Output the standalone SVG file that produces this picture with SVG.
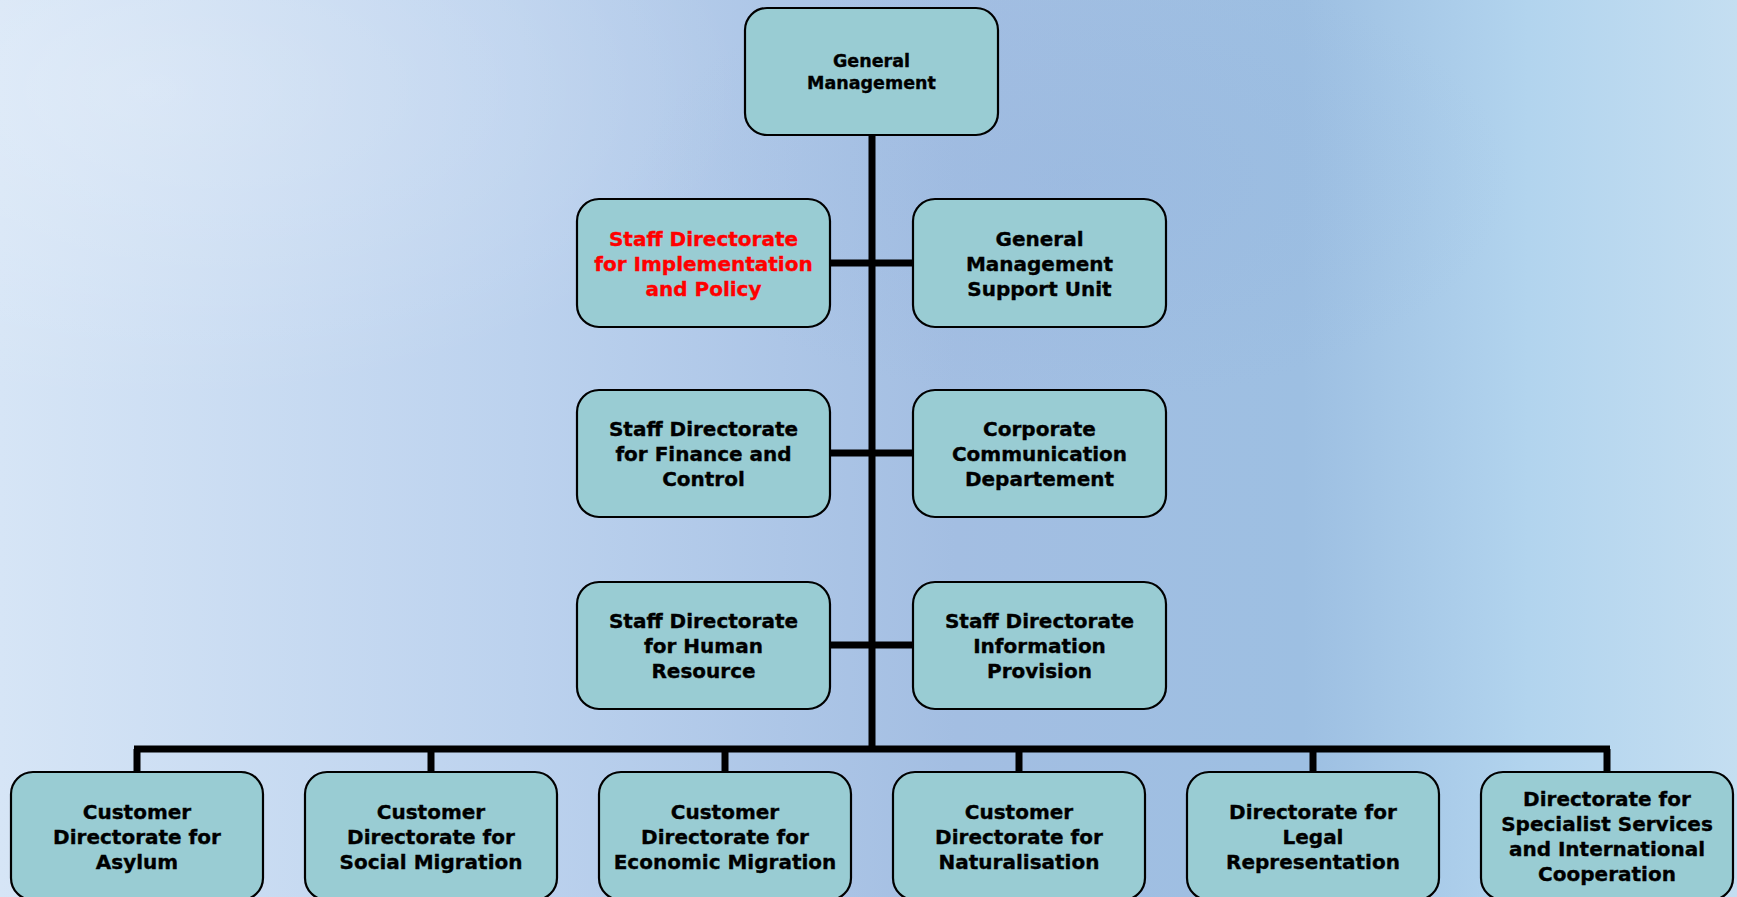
<svg xmlns="http://www.w3.org/2000/svg" width="1737" height="897" viewBox="0 0 1737 897">
<defs>
<linearGradient id="bg" x1="0" y1="0" x2="1" y2="0">
<stop offset="0" stop-color="#D6E5F6"/>
<stop offset="0.3" stop-color="#BCD2EE"/>
<stop offset="0.55" stop-color="#A3BEE2"/>
<stop offset="0.75" stop-color="#9DBFE2"/>
<stop offset="0.88" stop-color="#B2D4EE"/>
<stop offset="1" stop-color="#C4DEF1"/>
</linearGradient>
<radialGradient id="glowL" cx="0.08" cy="0.1" r="0.35">
<stop offset="0" stop-color="#FFFFFF" stop-opacity="0.25"/>
<stop offset="1" stop-color="#FFFFFF" stop-opacity="0"/>
</radialGradient>
<radialGradient id="glowC" cx="0.62" cy="0.2" r="0.25">
<stop offset="0" stop-color="#8FB0DC" stop-opacity="0.25"/>
<stop offset="1" stop-color="#8FB0DC" stop-opacity="0"/>
</radialGradient>
<style>
.box{fill:#99CCD3;stroke:#000;stroke-width:2.2}
.t{font-family:"DejaVu Sans",Verdana,sans-serif;font-weight:bold;font-size:20px;fill:#000;stroke:#000;stroke-width:0.35;text-anchor:middle}
.gm{font-size:17.5px}
.red{fill:#FF0000;stroke:#FF0000}
.ln{stroke:#000;stroke-width:7;fill:none}
</style>
</defs>
<rect width="1737" height="897" fill="url(#bg)"/>
<rect width="1737" height="897" fill="url(#glowL)"/>
<rect width="1737" height="897" fill="url(#glowC)"/>
<g id="connectors">
<line class="ln" x1="872" y1="135" x2="872" y2="749"/>
<line class="ln" x1="830" y1="263" x2="913" y2="263"/>
<line class="ln" x1="830" y1="453" x2="913" y2="453"/>
<line class="ln" x1="830" y1="645" x2="913" y2="645"/>
<line class="ln" x1="134" y1="749" x2="1610" y2="749"/>
<line class="ln" x1="137" y1="749" x2="137" y2="772"/>
<line class="ln" x1="431" y1="749" x2="431" y2="772"/>
<line class="ln" x1="725" y1="749" x2="725" y2="772"/>
<line class="ln" x1="1019" y1="749" x2="1019" y2="772"/>
<line class="ln" x1="1313" y1="749" x2="1313" y2="772"/>
<line class="ln" x1="1607" y1="749" x2="1607" y2="772"/>
</g>
<g id="n-gm">
<rect class="box" x="745" y="8" width="253" height="127" rx="22"/>
<text class="t gm" x="871.5" y="67">General</text>
<text class="t gm" x="871.5" y="89">Management</text>
</g>
<g id="n-impl">
<rect class="box" x="577" y="199" width="253" height="128" rx="22"/>
<text class="t red" x="703.5" y="246">Staff Directorate</text>
<text class="t red" x="703.5" y="271">for Implementation</text>
<text class="t red" x="703.5" y="296">and Policy</text>
</g>
<g id="n-gmsu">
<rect class="box" x="913" y="199" width="253" height="128" rx="22"/>
<text class="t" x="1039.5" y="246">General</text>
<text class="t" x="1039.5" y="271">Management</text>
<text class="t" x="1039.5" y="296">Support Unit</text>
</g>
<g id="n-fin">
<rect class="box" x="577" y="390" width="253" height="127" rx="22"/>
<text class="t" x="703.5" y="436">Staff Directorate</text>
<text class="t" x="703.5" y="461">for Finance and</text>
<text class="t" x="703.5" y="486">Control</text>
</g>
<g id="n-comm">
<rect class="box" x="913" y="390" width="253" height="127" rx="22"/>
<text class="t" x="1039.5" y="436">Corporate</text>
<text class="t" x="1039.5" y="461">Communication</text>
<text class="t" x="1039.5" y="486">Departement</text>
</g>
<g id="n-hr">
<rect class="box" x="577" y="582" width="253" height="127" rx="22"/>
<text class="t" x="703.5" y="628">Staff Directorate</text>
<text class="t" x="703.5" y="653">for Human</text>
<text class="t" x="703.5" y="678">Resource</text>
</g>
<g id="n-info">
<rect class="box" x="913" y="582" width="253" height="127" rx="22"/>
<text class="t" x="1039.5" y="628">Staff Directorate</text>
<text class="t" x="1039.5" y="653">Information</text>
<text class="t" x="1039.5" y="678">Provision</text>
</g>
<g id="n-asylum">
<rect class="box" x="11" y="772" width="252" height="128" rx="22"/>
<text class="t" x="137" y="819">Customer</text>
<text class="t" x="137" y="844">Directorate for</text>
<text class="t" x="137" y="869">Asylum</text>
</g>
<g id="n-social">
<rect class="box" x="305" y="772" width="252" height="128" rx="22"/>
<text class="t" x="431" y="819">Customer</text>
<text class="t" x="431" y="844">Directorate for</text>
<text class="t" x="431" y="869">Social Migration</text>
</g>
<g id="n-econ">
<rect class="box" x="599" y="772" width="252" height="128" rx="22"/>
<text class="t" x="725" y="819">Customer</text>
<text class="t" x="725" y="844">Directorate for</text>
<text class="t" x="725" y="869">Economic Migration</text>
</g>
<g id="n-nat">
<rect class="box" x="893" y="772" width="252" height="128" rx="22"/>
<text class="t" x="1019" y="819">Customer</text>
<text class="t" x="1019" y="844">Directorate for</text>
<text class="t" x="1019" y="869">Naturalisation</text>
</g>
<g id="n-legal">
<rect class="box" x="1187" y="772" width="252" height="128" rx="22"/>
<text class="t" x="1313" y="819">Directorate for</text>
<text class="t" x="1313" y="844">Legal</text>
<text class="t" x="1313" y="869">Representation</text>
</g>
<g id="n-spec">
<rect class="box" x="1481" y="772" width="252" height="128" rx="22"/>
<text class="t" x="1607" y="806">Directorate for</text>
<text class="t" x="1607" y="831">Specialist Services</text>
<text class="t" x="1607" y="856">and International</text>
<text class="t" x="1607" y="881">Cooperation</text>
</g>
</svg>
